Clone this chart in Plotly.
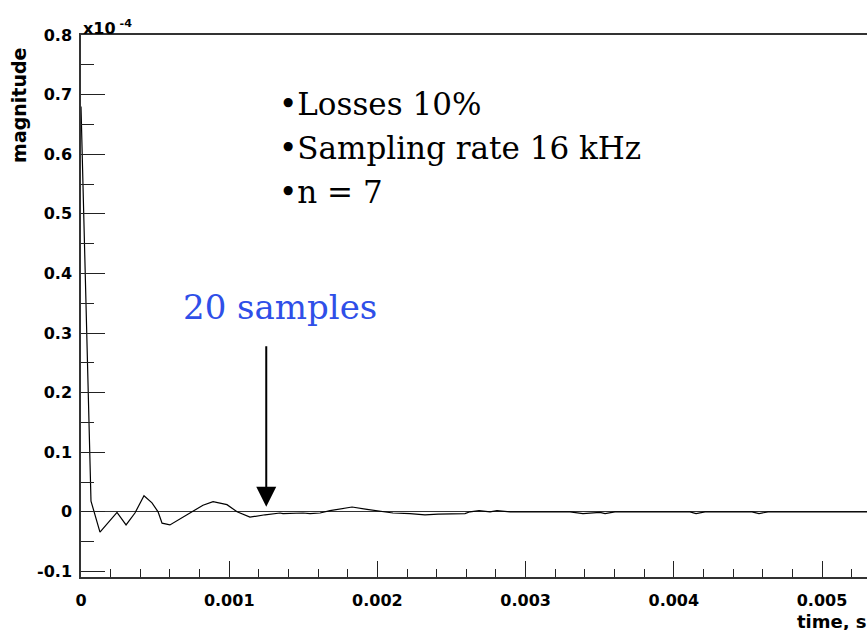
import plotly.graph_objects as go

# ---- data ----
time_s = [0.0, 0.0000200, 0.0000385, 0.0000570, 0.0000640, 0.0000675, 0.000128,
          0.000243, 0.000304, 0.000364, 0.000425, 0.000479, 0.000520, 0.000547,
          0.000600, 0.000668, 0.000749, 0.000823, 0.000891, 0.000985, 0.001053,
          0.001140, 0.001242, 0.001343, 0.001363, 0.001498, 0.001545, 0.001613,
          0.001680, 0.001748, 0.001829, 0.001930, 0.002038, 0.002105, 0.002220,
          0.002321, 0.002409, 0.002591, 0.002625, 0.002686, 0.002760, 0.002807,
          0.002895, 0.003300, 0.003387, 0.003502, 0.003536, 0.003603, 0.004109,
          0.004150, 0.004211, 0.004528, 0.004575, 0.004636, 0.005304]
magnitude = [0.680, 0.470, 0.300, 0.090, 0.050, 0.018, -0.034,
             -0.001, -0.022, -0.002, 0.027, 0.015, 0.000, -0.019,
             -0.022, -0.012, 0.000, 0.011, 0.017, 0.012, 0.000,
             -0.009, -0.005, -0.002, -0.003, -0.002, -0.003, -0.002,
             0.002, 0.005, 0.008, 0.004, 0.001, -0.002, -0.003,
             -0.005, -0.004, -0.003, 0.000, 0.002, 0.000, 0.002,
             0.000, 0.000, -0.003, -0.001, -0.003, 0.000, 0.000,
             -0.003, 0.000, 0.000, -0.003, 0.000, 0.000]

x_tick_vals = [0, 0.001, 0.002, 0.003, 0.004, 0.005]
x_tick_text = ["0", "0.001", "0.002", "0.003", "0.004", "0.005"]
y_tick_vals = [-0.1, 0, 0.1, 0.2, 0.3, 0.4, 0.5, 0.6, 0.7, 0.8]
y_tick_text = ["-0.1", "0", "0.1", "0.2", "0.3", "0.4", "0.5", "0.6", "0.7", "0.8"]

notes = ["•Losses 10%", "•Sampling rate 16 kHz", "•n = 7"]
note_y = [0.685, 0.611, 0.537]
marker_time = 20 / 16000  # 20 samples at 16 kHz

label_font = dict(family="DejaVu Sans", size=16, color="black", weight="bold")

fig = go.Figure()
fig.add_trace(go.Scatter(x=time_s, y=magnitude, mode="lines",
                         line=dict(color="black", width=1.2),
                         showlegend=False, hoverinfo="skip"))

fig.update_layout(
    width=867, height=630,
    margin=dict(l=81, r=0, t=35, b=53, pad=0),
    paper_bgcolor="white", plot_bgcolor="white",
    showlegend=False,
    xaxis=dict(range=[0, 0.0053036], showgrid=False, zeroline=False,
               showline=True, linecolor="#333", linewidth=1.5, mirror=True,
               ticks="inside", ticklen=16, tickwidth=1, tickcolor="#222",
               tickvals=x_tick_vals, ticktext=x_tick_text, tickfont=label_font,
               ticklabelstandoff=8,
               minor=dict(ticks="inside", ticklen=8, tickwidth=1, tickcolor="#222",
                          dtick=0.0002, tick0=0, showgrid=False)),
    yaxis=dict(range=[-0.1094, 0.8], showgrid=False,
               zeroline=True, zerolinecolor="#333", zerolinewidth=1.3,
               showline=True, linecolor="#333", linewidth=1.5, mirror=False,
               ticks="inside", ticklen=24, tickwidth=1, tickcolor="#222",
               tickvals=y_tick_vals, ticktext=y_tick_text, tickfont=label_font,
               ticklabelstandoff=4,
               minor=dict(ticks="inside", ticklen=13, tickwidth=1, tickcolor="#222",
                          dtick=0.05, tick0=0, showgrid=False)),
)

# axis titles / exponent
fig.add_annotation(text="magnitude", xref="paper", yref="paper",
                   x=-0.0789, y=0.871, textangle=-90, showarrow=False,
                   xanchor="center", yanchor="middle",
                   font=dict(family="DejaVu Sans", size=19, color="black", weight="bold"))
fig.add_annotation(text="x10<sup> -4</sup>", xref="paper", yref="paper",
                   x=0.0, y=1.0, yshift=-5, showarrow=False, xanchor="left", yanchor="bottom",
                   font=label_font)
fig.add_annotation(text="time, s", xref="paper", yref="paper",
                   x=0.908, y=-0.083, showarrow=False, xanchor="left", yanchor="middle",
                   font=dict(family="DejaVu Sans", size=18, color="black", weight="bold"))

# bullet notes
for txt, yy in zip(notes, note_y):
    fig.add_annotation(text=txt, x=0.001323, y=yy, xref="x", yref="y",
                       showarrow=False, xanchor="left", yanchor="middle",
                       font=dict(family="DejaVu Serif", size=31, color="black"))

# "20 samples" marker
fig.add_annotation(text="20 samples", x=0.001343, y=0.344, xref="x", yref="y",
                   showarrow=False, xanchor="center", yanchor="middle",
                   font=dict(family="DejaVu Serif", size=34, color="#2f4fe8"))
fig.add_annotation(text="", x=marker_time, y=0.0084, xref="x", yref="y",
                   showarrow=True, ax=0, ay=-162, arrowhead=2, arrowsize=2,
                   arrowwidth=2, arrowcolor="black")

fig.write_html("out.html", config={"displayModeBar": False},
               post_script="document.body.style.margin='0';document.body.style.overflow='hidden';")
